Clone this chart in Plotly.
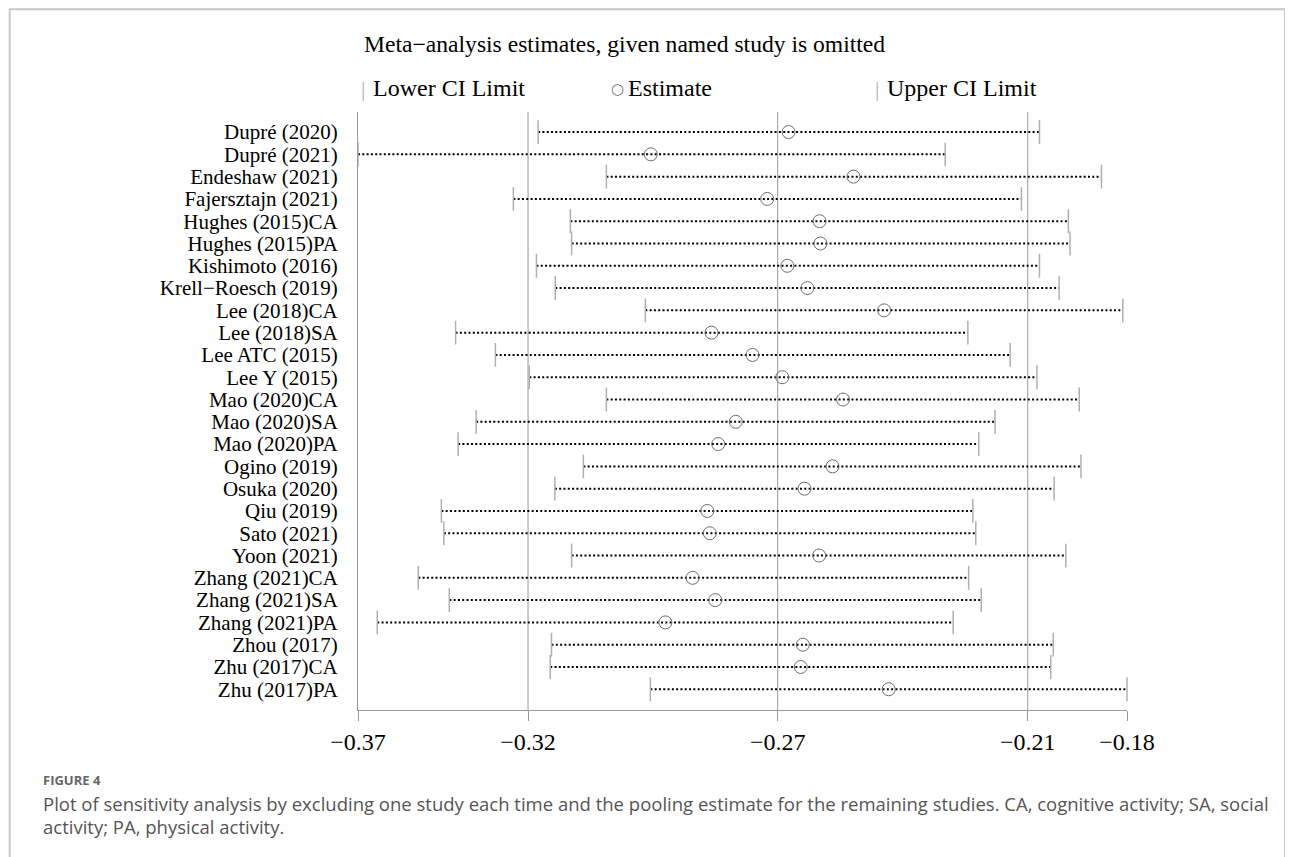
import plotly.graph_objects as go

studies = ["Dupré (2020)", "Dupré (2021)", "Endeshaw (2021)", "Fajersztajn (2021)",
           "Hughes (2015)CA", "Hughes (2015)PA", "Kishimoto (2016)", "Krell−Roesch (2019)",
           "Lee (2018)CA", "Lee (2018)SA", "Lee ATC (2015)", "Lee Y (2015)",
           "Mao (2020)CA", "Mao (2020)SA", "Mao (2020)PA", "Ogino (2019)",
           "Osuka (2020)", "Qiu (2019)", "Sato (2021)", "Yoon (2021)",
           "Zhang (2021)CA", "Zhang (2021)SA", "Zhang (2021)PA", "Zhou (2017)",
           "Zhu (2017)CA", "Zhu (2017)PA"]

lower = [-0.3222, -0.3652, -0.3059, -0.3281, -0.3145, -0.3142, -0.3226, -0.3181,
         -0.2966, -0.3419, -0.3324, -0.3243, -0.3059, -0.3370, -0.3413, -0.3114,
         -0.3182, -0.3453, -0.3447, -0.3142, -0.3508, -0.3434, -0.3606, -0.3190,
         -0.3193, -0.2954]
estimate = [-0.2624, -0.2953, -0.2469, -0.2675, -0.2550, -0.2548, -0.2627, -0.2579,
            -0.2396, -0.2808, -0.2710, -0.2639, -0.2494, -0.2750, -0.2792, -0.2519,
            -0.2586, -0.2818, -0.2812, -0.2551, -0.2853, -0.2799, -0.2918, -0.2590,
            -0.2595, -0.2385]
upper = [-0.2025, -0.2250, -0.1877, -0.2068, -0.1956, -0.1952, -0.2025, -0.1978,
         -0.1826, -0.2196, -0.2095, -0.2031, -0.1930, -0.2131, -0.2170, -0.1926,
         -0.1990, -0.2184, -0.2177, -0.1962, -0.2194, -0.2164, -0.2231, -0.1992,
         -0.1998, -0.1816]

tick_vals = [-0.3652, -0.3246, -0.2650, -0.2053, -0.1816]
tick_text = ["−0.37", "−0.32", "−0.27", "−0.21", "−0.18"]
grid_vals = tick_vals[1:4]

title_text = "Meta−analysis estimates, given named study is omitted"
legend_labels = ["Lower CI Limit", "Estimate", "Upper CI Limit"]
caption_head = "FIGURE 4"
caption_line1 = ("Plot of sensitivity analysis by excluding one study each time and the pooling estimate "
                 "for the remaining studies. CA, cognitive activity; SA, social")
caption_line2 = "activity; PA, physical activity."

# page offset (body margin of the html page)
OFF = 8
W, H = 1293 - OFF, 857 - OFF
L, R, T, B = 357.5 - OFF, 1127.0 - OFF, 111.7 - OFF, 710.0 - OFF


def px(x):  # page x -> paper
    return (x - OFF - L) / (R - L)


def py(y):  # page y -> paper
    return (B - (y - OFF)) / (B - T)


rows = list(range(1, len(studies) + 1))

lx, ly = [], []
for i, lo, up in zip(rows, lower, upper):
    lx += [lo, up, None]
    ly += [i, i, None]

SERIF = "Liberation Serif, Times New Roman, serif"
SANS = "Open Sans, Noto Sans, sans-serif"
AXC = "#9a9a9a"
CAPC = "#b0b0b0"
CIRC = "#6e6e6e"

fig = go.Figure()
fig.add_trace(go.Scatter(x=lx, y=ly, mode="lines",
                         line=dict(color="black", width=2, dash="2px,2.3px"),
                         hoverinfo="skip", showlegend=False))
fig.add_trace(go.Scatter(x=lower, y=rows, mode="markers", cliponaxis=False,
                         marker=dict(symbol="line-ns", size=17, line=dict(color=CAPC, width=1.5)),
                         showlegend=False))
fig.add_trace(go.Scatter(x=upper, y=rows, mode="markers", cliponaxis=False,
                         marker=dict(symbol="line-ns", size=17, line=dict(color=CAPC, width=1.5)),
                         showlegend=False))
fig.add_trace(go.Scatter(x=estimate, y=rows, mode="markers", cliponaxis=False,
                         marker=dict(symbol="circle-open", size=13, color=CIRC,
                                     line=dict(color=CIRC, width=1)),
                         showlegend=False))

shapes = []
for g in grid_vals:
    shapes.append(dict(type="line", xref="x", yref="paper", x0=g, x1=g, y0=0, y1=1,
                       line=dict(color=AXC, width=1), layer="below"))
# figure frame
shapes.append(dict(type="rect", xref="paper", yref="paper",
                   x0=px(9), x1=px(1285), y0=py(880), y1=py(9),
                   line=dict(color="#c8c8c8", width=2)))


def ann(text, x, y, size, color="black", family=SERIF, xanchor="left"):
    return dict(text=text, x=px(x), y=py(y), xref="paper", yref="paper",
                xanchor=xanchor, yanchor="middle", showarrow=False, align="left",
                font=dict(family=family, size=size, color=color))


annotations = [
    ann(title_text, 362, 44, 23.6),
    ann("|", 363, 88, 22, CAPC, xanchor="center"),
    ann(legend_labels[0], 371, 88, 24),
    ann("○", 617, 89, 15, CIRC, family="DejaVu Sans", xanchor="center"),
    ann(legend_labels[1], 626, 88, 24),
    ann("|", 877, 88, 22, CAPC, xanchor="center"),
    ann(legend_labels[2], 885, 88, 24),
    ann("<b>" + caption_head + "</b>", 40, 780, 13, "#666666", SANS),
    ann(caption_line1, 40, 804, 18.5, "#555555", SANS),
    ann(caption_line2, 40, 827, 18.5, "#555555", SANS),
]

fig.update_layout(
    width=W, height=H,
    margin=dict(l=L, r=W - R, t=T, b=H - B, pad=0),
    paper_bgcolor="white", plot_bgcolor="white",
    shapes=shapes, annotations=annotations,
    xaxis=dict(range=[tick_vals[0], tick_vals[-1]], tickvals=tick_vals, ticktext=tick_text,
               showgrid=False, zeroline=False, showline=True, linecolor=AXC, linewidth=1,
               ticks="outside", ticklen=10, tickcolor=AXC, tickwidth=1,
               tickfont=dict(family=SERIF, size=24, color="black")),
    yaxis=dict(range=[len(studies) + 0.93, 0.1], tickvals=rows, ticktext=studies,
               showgrid=False, zeroline=False, showline=True, linecolor=AXC, linewidth=1,
               ticks="", ticklabelstandoff=15,
               tickfont=dict(family=SERIF, size=21, color="black")),
    font=dict(family=SERIF),
)

fig.write_html("out.html")
